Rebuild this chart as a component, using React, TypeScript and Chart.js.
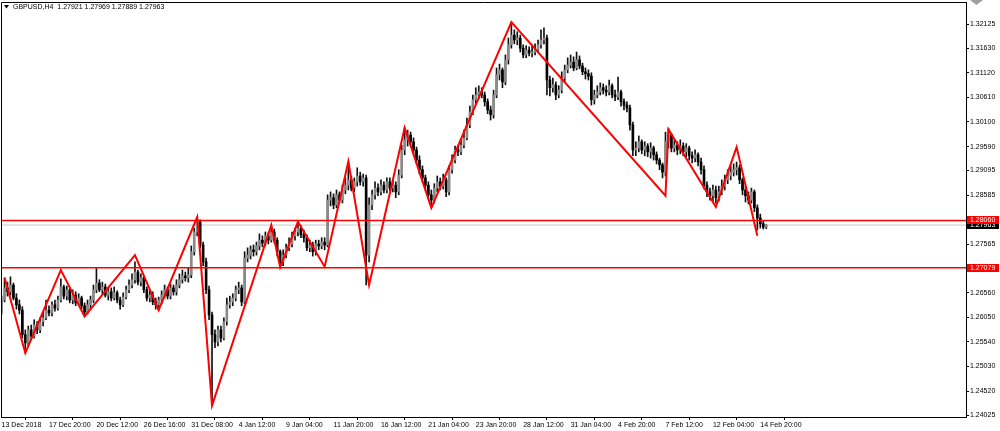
import { useEffect, useRef } from "react";
import { Chart, registerables } from "chart.js";

Chart.register(...registerables);

// ---------- data (GBPUSD, H4) ----------
const firstOpen = 1.262;

const closes = [
  1.2641, 1.2666, 1.2658, 1.2672, 1.2645, 1.2631, 1.262, 1.2569, 1.2552, 1.2579,
  1.2566, 1.2589, 1.2579, 1.2596, 1.2604, 1.262, 1.2614, 1.2631, 1.2624, 1.2641,
  1.2668, 1.2649, 1.2662, 1.2641, 1.2651, 1.2635, 1.2645, 1.2629, 1.2616, 1.2631,
  1.2641, 1.2662, 1.2676, 1.2662, 1.2668, 1.2651, 1.2658, 1.2645, 1.2656, 1.2641,
  1.2631, 1.2647, 1.2662, 1.2672, 1.2683, 1.2699, 1.2678, 1.2687, 1.2662, 1.2645,
  1.2651, 1.2637, 1.2631, 1.2641, 1.2651, 1.2662, 1.2649, 1.2666, 1.2658, 1.2672,
  1.2683, 1.2691, 1.2687, 1.2693, 1.2741, 1.2782, 1.2803, 1.2755, 1.272, 1.2662,
  1.261, 1.2569, 1.2554, 1.2579, 1.2562, 1.2596, 1.2631, 1.2637, 1.2645, 1.2662,
  1.2666, 1.2637, 1.2728, 1.2734, 1.2745, 1.2741, 1.2753, 1.2765, 1.2759, 1.2774,
  1.2765, 1.2782, 1.2765, 1.2741, 1.272, 1.2734, 1.2749, 1.2757, 1.2774, 1.2782,
  1.279, 1.2776, 1.277, 1.2749, 1.2755, 1.2741, 1.2757, 1.2753, 1.2761, 1.2755,
  1.2848, 1.2853, 1.2838, 1.2859, 1.2848, 1.2869, 1.2879, 1.289, 1.2873, 1.2886,
  1.2898, 1.2886, 1.2894, 1.2734, 1.2838, 1.2859, 1.2873, 1.2865, 1.2879, 1.2869,
  1.2886, 1.2873, 1.2879, 1.2865, 1.29, 1.2952, 1.2973, 1.2983, 1.2969, 1.2952,
  1.2931, 1.2911, 1.2894, 1.2879, 1.2859, 1.2848, 1.2873, 1.2886, 1.2877, 1.289,
  1.2865, 1.2911, 1.2931, 1.2952, 1.2948, 1.2962, 1.2977, 1.3004, 1.3031, 1.3056,
  1.3066, 1.3072, 1.3066, 1.3052, 1.3035, 1.3025, 1.3066, 1.3108, 1.3118, 1.3093,
  1.3139, 1.317, 1.319, 1.318, 1.3184, 1.3163, 1.3149, 1.3159, 1.3153, 1.3155,
  1.3159, 1.317, 1.318, 1.3184, 1.3097, 1.3081, 1.3087, 1.3066, 1.3076, 1.3101,
  1.3118, 1.3128, 1.3134, 1.3122, 1.3139, 1.3126, 1.3114, 1.311, 1.3105, 1.3056,
  1.3066, 1.3072, 1.3081, 1.3076, 1.3072, 1.3085, 1.3066, 1.3062, 1.3072, 1.3052,
  1.3045, 1.3039, 1.3004, 1.2952, 1.2956, 1.2969, 1.2952, 1.296, 1.2948, 1.2956,
  1.2942, 1.2931, 1.2921, 1.2906, 1.2969, 1.2983, 1.2956, 1.2962, 1.2952, 1.296,
  1.2948, 1.2956, 1.294, 1.2935, 1.2942, 1.2927, 1.2911, 1.2879, 1.2865, 1.2857,
  1.2869, 1.2853, 1.2865, 1.2877, 1.289, 1.2898, 1.2906, 1.2911, 1.2915, 1.289,
  1.2869, 1.2857, 1.2848, 1.2865, 1.2832, 1.2811, 1.2799, 1.27921, 1.27963,
];

const highs = [
  1.2649, 1.2687, 1.2678, 1.2689, 1.2676, 1.2654, 1.2641, 1.2627, 1.2579, 1.2587,
  1.2589, 1.26, 1.2596, 1.2604, 1.2616, 1.2641, 1.2629, 1.2637, 1.2641, 1.2649,
  1.2685, 1.2672, 1.267, 1.2666, 1.2662, 1.2658, 1.2654, 1.2649, 1.2635, 1.2641,
  1.2649, 1.2672, 1.2707, 1.2683, 1.2678, 1.2674, 1.2666, 1.2666, 1.2668, 1.266,
  1.2647, 1.2656, 1.267, 1.2683, 1.2695, 1.272, 1.2703, 1.2695, 1.2691, 1.2668,
  1.2662, 1.2658, 1.2645, 1.2647, 1.266, 1.2672, 1.2668, 1.2674, 1.2672, 1.2683,
  1.2695, 1.2703, 1.2699, 1.2707, 1.2753, 1.279, 1.2813, 1.2807, 1.2761, 1.2728,
  1.267, 1.2616, 1.2579, 1.2587, 1.2587, 1.2604, 1.2645, 1.2649, 1.2654, 1.267,
  1.2678, 1.2672, 1.2741, 1.2749, 1.2753, 1.2755, 1.2761, 1.2778, 1.2774, 1.2782,
  1.278, 1.2795, 1.2788, 1.277, 1.2745, 1.2745, 1.2757, 1.277, 1.2782, 1.279,
  1.2803, 1.2795, 1.2786, 1.2776, 1.2765, 1.2761, 1.2765, 1.2765, 1.277, 1.277,
  1.2859, 1.2865, 1.2861, 1.2869, 1.2865, 1.2879, 1.2894, 1.2925, 1.2898, 1.2894,
  1.2915, 1.2906, 1.2902, 1.29, 1.2853, 1.2869, 1.2886, 1.2882, 1.289, 1.2886,
  1.2894, 1.2894, 1.289, 1.2886, 1.2911, 1.2962, 1.2998, 1.2993, 1.2989, 1.2977,
  1.2958, 1.294, 1.2919, 1.29, 1.2886, 1.2869, 1.2882, 1.2898, 1.2894, 1.2902,
  1.2894, 1.2919, 1.2942, 1.296, 1.2962, 1.2973, 1.2993, 1.3018, 1.3043, 1.3066,
  1.3081, 1.3085, 1.3081, 1.3072, 1.3058, 1.3043, 1.3076, 1.3122, 1.313, 1.3122,
  1.3149, 1.3184, 1.3217, 1.3201, 1.3197, 1.319, 1.317, 1.3168, 1.3166, 1.3168,
  1.3172, 1.318, 1.3201, 1.3205, 1.319, 1.3105, 1.3101, 1.3093, 1.3085, 1.3114,
  1.3128, 1.3143, 1.3149, 1.3145, 1.3155, 1.3147, 1.3132, 1.3122, 1.3118, 1.3112,
  1.3076, 1.3085, 1.3091, 1.3089, 1.3085, 1.3097, 1.3089, 1.3076, 1.3103, 1.3076,
  1.3058, 1.3052, 1.3045, 1.301, 1.2969, 1.2981, 1.2973, 1.2969, 1.2965, 1.2967,
  1.296, 1.2948, 1.2935, 1.2925, 1.2989, 1.2996, 1.2987, 1.2973, 1.2969, 1.2973,
  1.2967, 1.2965, 1.296, 1.2948, 1.2952, 1.2946, 1.2935, 1.2919, 1.2886, 1.2873,
  1.2879, 1.2877, 1.2877, 1.289, 1.29, 1.2911, 1.2919, 1.2923, 1.2927, 1.2921,
  1.2894, 1.2877, 1.2865, 1.2873, 1.2869, 1.2838, 1.2819, 1.2805, 1.27969,
];

const lows = [
  1.2612, 1.2637, 1.2649, 1.2651, 1.2641, 1.2622, 1.2612, 1.2562, 1.2533, 1.2546,
  1.2558, 1.2562, 1.2571, 1.2573, 1.2587, 1.26, 1.2608, 1.2608, 1.2618, 1.262,
  1.2637, 1.2643, 1.2641, 1.2635, 1.2633, 1.2629, 1.2631, 1.2622, 1.2608, 1.2612,
  1.2622, 1.2635, 1.2656, 1.2658, 1.2654, 1.2647, 1.2641, 1.2639, 1.2641, 1.2635,
  1.2622, 1.2627, 1.2643, 1.2656, 1.2666, 1.2676, 1.2672, 1.267, 1.2656, 1.2639,
  1.2637, 1.2631, 1.2622, 1.262, 1.2633, 1.2645, 1.2643, 1.2643, 1.2651, 1.2651,
  1.2666, 1.2676, 1.268, 1.2678, 1.2687, 1.2734, 1.2774, 1.2749, 1.2712, 1.2654,
  1.26, 1.2423, 1.2542, 1.2546, 1.2554, 1.2558, 1.2589, 1.2624, 1.2629, 1.2639,
  1.2654, 1.2629, 1.2633, 1.272, 1.2726, 1.2732, 1.2734, 1.2745, 1.2751, 1.2753,
  1.2757, 1.2761, 1.2759, 1.2732, 1.271, 1.2712, 1.2728, 1.2743, 1.2751, 1.2765,
  1.2774, 1.277, 1.2761, 1.2743, 1.2741, 1.2732, 1.2734, 1.2745, 1.2747, 1.2745,
  1.2751, 1.2836, 1.283, 1.2832, 1.2842, 1.2842, 1.2861, 1.2869, 1.2867, 1.2865,
  1.2877, 1.2879, 1.2877, 1.2672, 1.272, 1.2828, 1.285, 1.2857, 1.2859, 1.2863,
  1.2863, 1.2867, 1.2865, 1.2853, 1.2859, 1.2894, 1.2942, 1.296, 1.2962, 1.2944,
  1.2923, 1.2902, 1.2886, 1.2869, 1.285, 1.2834, 1.2842, 1.2865, 1.2869, 1.2871,
  1.2855, 1.2859, 1.2904, 1.2925, 1.294, 1.2942, 1.2956, 1.2973, 1.2998, 1.3025,
  1.3047, 1.3058, 1.306, 1.3043, 1.3027, 1.3014, 1.3018, 1.306, 1.3097, 1.3081,
  1.3087, 1.313, 1.3163, 1.3172, 1.317, 1.3155, 1.3143, 1.3143, 1.3147, 1.3145,
  1.3149, 1.3153, 1.3163, 1.3172, 1.3066, 1.3064, 1.3072, 1.3056, 1.306, 1.307,
  1.3093, 1.3112, 1.3122, 1.3116, 1.3118, 1.312, 1.3108, 1.3099, 1.3097, 1.3045,
  1.3047, 1.306, 1.3066, 1.3068, 1.3064, 1.3066, 1.306, 1.3054, 1.3056, 1.3043,
  1.3035, 1.3031, 1.2993, 1.294, 1.294, 1.2948, 1.2944, 1.294, 1.2938, 1.2935,
  1.2931, 1.2923, 1.2911, 1.2894, 1.2898, 1.2956, 1.2948, 1.2948, 1.2942, 1.2944,
  1.294, 1.2938, 1.2931, 1.2925, 1.2927, 1.2919, 1.2902, 1.2871, 1.2855, 1.2848,
  1.2846, 1.2842, 1.2846, 1.2859, 1.2869, 1.2882, 1.289, 1.2898, 1.29, 1.2882,
  1.2859, 1.2844, 1.284, 1.2842, 1.2824, 1.2786, 1.279, 1.2788, 1.27889,
];

// zigzag pivots (bar index, price)
const zigBars = [1, 8, 20, 28, 45, 53, 66, 71, 91, 94, 100, 109, 117, 124, 136, 145, 172, 224, 225, 241, 248, 255];
const zigPrices = [
  1.2687, 1.2531, 1.2703, 1.2607, 1.2734, 1.262, 1.2813, 1.2422, 1.2796, 1.2709, 1.2803,
  1.271, 1.2928, 1.2672, 1.2998, 1.2832, 1.3217, 1.2857, 1.2995, 1.2834, 1.2958, 1.2774,
];

const levelPrices = [1.2806, 1.27079];
const bidPrice = 1.27963;

const xTickBars = [0, 16, 32, 48, 64, 80, 96, 112, 128, 144, 160, 176, 192, 208, 224, 240, 256];
const xTickLabels = [
  "13 Dec 2018", "17 Dec 20:00", "20 Dec 12:00", "26 Dec 16:00", "31 Dec 08:00", "4 Jan 12:00",
  "9 Jan 04:00", "11 Jan 20:00", "16 Jan 12:00", "21 Jan 04:00", "23 Jan 20:00", "28 Jan 12:00",
  "31 Jan 04:00", "4 Feb 20:00", "7 Feb 12:00", "12 Feb 04:00", "14 Feb 20:00",
];
const yTickValues = [
  1.32125, 1.3163, 1.3112, 1.3061, 1.301, 1.2959, 1.29095, 1.28585, 1.27565, 1.2656, 1.2605,
  1.2554, 1.2503, 1.2452, 1.24025,
];

const titleText = "GBPUSD,H4  1.27921 1.27969 1.27889 1.27963";

const X_MIN = -0.2;
const X_MAX = 325.4;
const Y_MIN = 1.23984;
const Y_MAX = 1.32587;

const FONT = "'Liberation Sans', Arial, sans-serif";

const decorPlugin = {
  id: "mtDecor",
  afterDraw(chart: any) {
    const { ctx, chartArea: a, scales } = chart;
    const ys = scales.y;
    ctx.save();
    // frame (left & top)
    ctx.strokeStyle = "#000";
    ctx.lineWidth = 1;
    ctx.beginPath();
    ctx.moveTo(a.left + 0.5, a.bottom);
    ctx.lineTo(a.left + 0.5, a.top + 0.5);
    ctx.lineTo(a.right, a.top + 0.5);
    ctx.stroke();
    // chart-shift marker (top right)
    ctx.fillStyle = "#a0a0a0";
    ctx.beginPath();
    ctx.moveTo(970, 0);
    ctx.lineTo(983, 0);
    ctx.lineTo(976.5, 5);
    ctx.closePath();
    ctx.fill();
    // title
    ctx.fillStyle = "#000";
    ctx.beginPath();
    ctx.moveTo(4, 5);
    ctx.lineTo(9, 5);
    ctx.lineTo(6.5, 8.5);
    ctx.closePath();
    ctx.fill();
    ctx.font = `7px ${FONT}`;
    ctx.textBaseline = "middle";
    ctx.textAlign = "left";
    ctx.fillText(titleText, 13, 7.5);
    // price boxes
    const box = (v: number, bg: string) => {
      const py = Math.round(ys.getPixelForValue(v));
      ctx.fillStyle = bg;
      ctx.fillRect(a.right + 1, py - 4, 32, 8);
      ctx.fillStyle = "#fff";
      ctx.fillText(v.toFixed(5), a.right + 4, py + 0.5);
    };
    box(bidPrice, "#000");
    levelPrices.forEach((v) => box(v, "#ff0000"));
    ctx.restore();
  },
};

export default function App() {
  const ref = useRef<HTMLCanvasElement>(null);

  useEffect(() => {
    const opens = closes.map((_, i) => (i === 0 ? firstOpen : closes[i - 1]));
    const wickData = closes.map((_, i) => ({ x: i, y: [lows[i], highs[i]] }));
    const bodyData = closes.map((c, i) => ({ x: i, y: [opens[i], c] }));
    const bodyColors = closes.map((c, i) => (c >= opens[i] ? "#8a8a8a" : "#000000"));
    const zigData = zigBars.map((b, i) => ({ x: b, y: zigPrices[i] }));

    const chart = new Chart(ref.current as HTMLCanvasElement, {
      type: "bar",
      data: {
        datasets: [
          {
            type: "line",
            label: "zigzag",
            data: zigData,
            borderColor: "#ff0000",
            borderWidth: 2,
            pointRadius: 0,
            tension: 0,
            order: 0,
          } as any,
          ...levelPrices.map((p) => ({
            type: "line",
            label: "level",
            data: [
              { x: X_MIN, y: p },
              { x: X_MAX, y: p },
            ],
            borderColor: "#ff0000",
            borderWidth: 1.5,
            pointRadius: 0,
            order: 1,
          })),
          {
            type: "bar",
            label: "body",
            data: bodyData,
            backgroundColor: bodyColors,
            barThickness: 2,
            minBarLength: 1,
            grouped: false,
            order: 2,
          } as any,
          {
            type: "bar",
            label: "wick",
            data: wickData,
            backgroundColor: "#111",
            barThickness: 1,
            grouped: false,
            order: 3,
          } as any,
          {
            type: "line",
            label: "bid",
            data: [
              { x: X_MIN, y: bidPrice },
              { x: X_MAX, y: bidPrice },
            ],
            borderColor: "#c8c8c8",
            borderWidth: 1,
            pointRadius: 0,
            order: 4,
          } as any,
        ],
      },
      options: {
        responsive: false,
        animation: false,
        devicePixelRatio: 1,
        layout: { padding: { left: 1, top: 2, right: 0, bottom: 0 } },
        plugins: { legend: { display: false }, tooltip: { enabled: false } },
        events: [],
        scales: {
          x: {
            type: "linear",
            min: X_MIN,
            max: X_MAX,
            offset: false,
            grid: { drawOnChartArea: false, drawTicks: true, tickLength: 3, color: "#000" },
            border: { display: true, color: "#000" },
            afterBuildTicks: (s: any) => {
              s.ticks = xTickBars.map((v) => ({ value: v }));
            },
            afterFit: (s: any) => {
              s.height = 14;
              s.paddingLeft = 0;
              s.paddingRight = 0;
            },
            ticks: {
              autoSkip: false,
              maxRotation: 0,
              minRotation: 0,
              align: "start",
              padding: 1,
              color: "#000",
              font: { family: FONT, size: 7 },
              callback: (_v: any, i: number) => xTickLabels[i],
            },
          },
          y: {
            type: "linear",
            position: "right",
            min: Y_MIN,
            max: Y_MAX,
            grid: { drawOnChartArea: false, drawTicks: true, tickLength: 3, color: "#000" },
            border: { display: true, color: "#000" },
            afterBuildTicks: (s: any) => {
              s.ticks = yTickValues.map((v) => ({ value: v }));
            },
            afterFit: (s: any) => {
              s.width = 34;
              s.paddingTop = 0;
              s.paddingBottom = 0;
            },
            ticks: {
              padding: 1,
              color: "#000",
              font: { family: FONT, size: 7 },
              callback: (v: any) => Number(v).toFixed(5),
            },
          },
        },
      } as any,
      plugins: [decorPlugin],
    });
    return () => chart.destroy();
  }, []);

  return (
    <div style={{ position: "absolute", left: 0, top: 0, width: 1000, height: 431, background: "#fff" }}>
      <canvas ref={ref} width={1000} height={431} style={{ display: "block", width: 1000, height: 431 }} />
    </div>
  );
}
